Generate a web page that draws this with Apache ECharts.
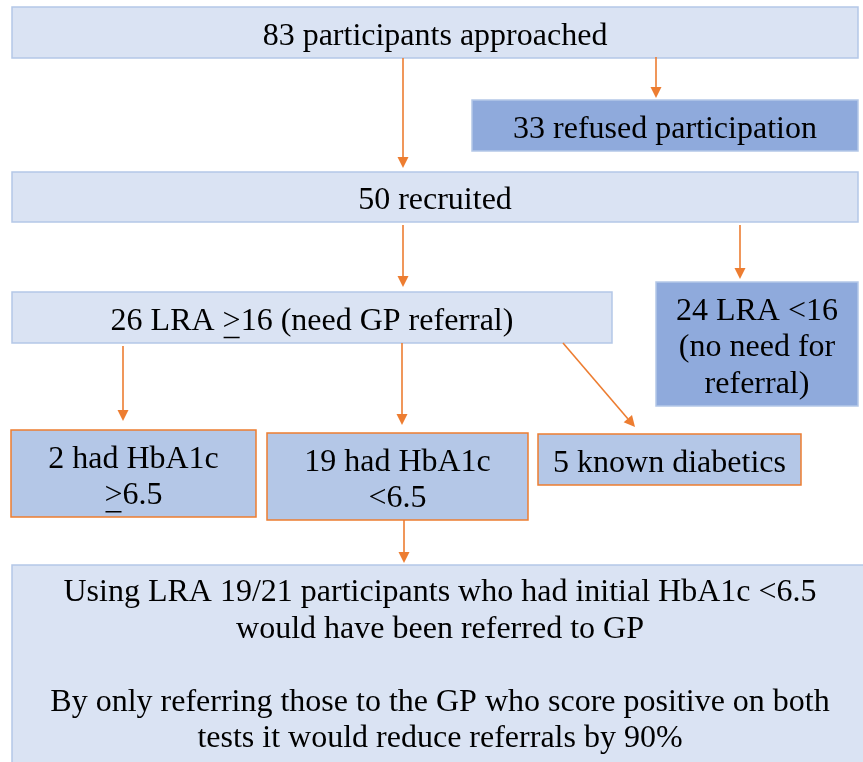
<!DOCTYPE html>
<html>
<head>
<meta charset="utf-8">
<script src="https://cdn.jsdelivr.net/npm/echarts@6/dist/echarts.min.js"></script>
<style>
  html, body { margin: 0; padding: 0; background: #fff; }
  #chart { width: 863px; height: 762px; }
</style>
</head>
<body>
<div id="chart"></div>
<script>
// flowchart texts (data); '≥' is drawn as an underlined '>'
const boxTexts = [
    '83 participants approached',
    '33 refused participation',
    '50 recruited',
    '26 LRA ≥16 (need GP referral)',
    '24 LRA <16\n(no need for\nreferral)',
    '2 had HbA1c\n≥6.5',
    '19 had HbA1c\n<6.5',
    '5 known diabetics',
    'Using LRA 19/21 participants who had initial HbA1c <6.5\nwould have been referred to GP\n\nBy only referring those to the GP who score positive on both\ntests it would reduce referrals by 90%'
];
// which box connects to which
const links = [[0, 2], [0, 1], [2, 3], [2, 4], [3, 5], [3, 6], [3, 7], [6, 8]];

// layout: x, y, w, h, kind
const boxLayout = [
    [12, 7, 846, 51, 'light'],
    [472, 100, 386, 51, 'dark'],
    [12, 172, 846, 50, 'light'],
    [12, 292, 600, 51, 'light'],
    [656, 282, 202, 124, 'dark'],
    [11, 430, 245, 87, 'mid'],
    [267, 433, 261, 87, 'mid'],
    [538, 434, 263, 51, 'mid'],
    [12, 565, 856, 210, 'light']
];
// arrow start/end points, one per link
const arrowLayout = [
    [403, 58, 403, 168],
    [656, 57, 656, 98],
    [403, 225, 403, 287],
    [740, 225, 740, 279],
    [123, 346, 123, 421],
    [402, 343, 402, 425],
    [563, 343, 635, 427],
    [404, 520, 404, 563]
];

const styles = {
    light: { fill: '#DAE3F3', stroke: '#B4C7E7' },
    dark: { fill: '#8FAADC', stroke: '#B4C7E7' },
    mid: { fill: '#B4C7E7', stroke: '#ED7D31' }
};
const ORANGE = '#ED7D31';
const FONT = '"Liberation Serif", "Times New Roman", serif';
const FONT_SIZE = 32;
const LINE_H = 36.5;

// for placing the underline under '>'
const measureCtx = document.createElement('canvas').getContext('2d');
measureCtx.font = FONT_SIZE + 'px ' + FONT;
function textWidth(s) {
    return measureCtx.measureText(s).width;
}

const chart = echarts.init(document.getElementById('chart'), null, { renderer: 'canvas' });

const elements = [];

boxTexts.forEach((txt, i) => {
    const [x, y, w, h, kind] = boxLayout[i];
    const st = styles[kind];
    elements.push({
        type: 'rect',
        shape: { x: x, y: y, width: w, height: h },
        style: { fill: st.fill, stroke: st.stroke, lineWidth: 1.5 },
        z: 1
    });
    const isLast = i === boxTexts.length - 1;
    const shown = txt.replace(/≥/g, '>');
    const cx = x + w / 2;
    const cy = isLast ? y + 9.5 : y + h / 2 + 4;
    elements.push({
        type: 'text',
        x: cx,
        y: cy,
        style: {
            text: shown,
            fill: '#000',
            font: FONT_SIZE + 'px ' + FONT,
            lineHeight: LINE_H,
            align: 'center',
            verticalAlign: isLast ? 'top' : 'middle'
        },
        z: 3
    });

    // underline for '≥'
    const lines = shown.split('\n');
    txt.split('\n').forEach((ln, k) => {
        const pos = ln.indexOf('≥');
        if (pos < 0) return;
        const lineW = textWidth(lines[k]);
        const x0 = cx - lineW / 2 + textWidth(lines[k].slice(0, pos));
        const gw = textWidth('>');
        const lineMid = cy + (k - (lines.length - 1) / 2) * LINE_H;
        const uy = lineMid + 16;
        elements.push({
            type: 'line',
            shape: { x1: x0 + 1, y1: uy, x2: x0 + gw - 1, y2: uy },
            style: { stroke: '#000', lineWidth: 1.5 },
            z: 3
        });
    });
});

arrowLayout.forEach((a) => {
    const [x1, y1, x2, y2] = a;
    const dx = x2 - x1, dy = y2 - y1;
    const len = Math.sqrt(dx * dx + dy * dy);
    const ux = dx / len, uy = dy / len;
    const headLen = 11, headW = 5.5;
    const bx = x2 - ux * headLen, by = y2 - uy * headLen;
    elements.push({
        type: 'line',
        shape: { x1: x1, y1: y1, x2: bx, y2: by },
        style: { stroke: ORANGE, lineWidth: 1.6 },
        z: 2
    });
    elements.push({
        type: 'polygon',
        shape: {
            points: [
                [x2, y2],
                [bx - uy * headW, by + ux * headW],
                [bx + uy * headW, by - ux * headW]
            ]
        },
        style: { fill: ORANGE },
        z: 2
    });
});

chart.setOption({
    backgroundColor: '#fff',
    animation: false,
    graphic: { elements: elements }
});
</script>
</body>
</html>
